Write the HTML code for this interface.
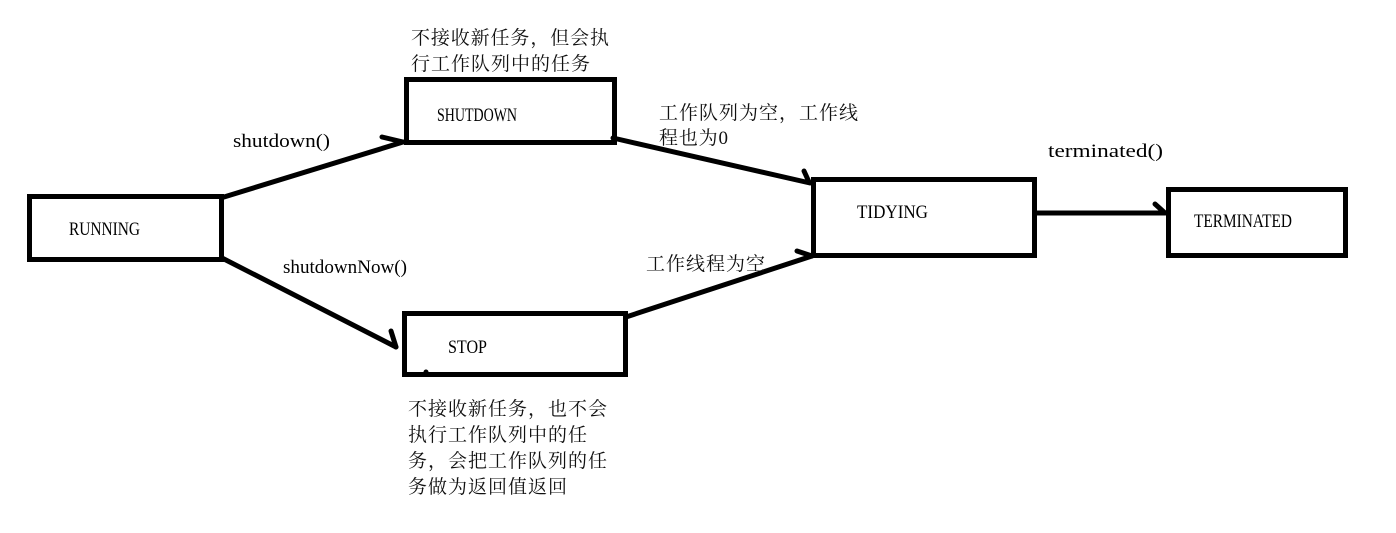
<!DOCTYPE html>
<html>
<head>
<meta charset="utf-8">
<style>
html,body{margin:0;padding:0;background:#fff;}
svg{display:block;}
.lbl{font-family:"Liberation Serif","Noto Serif CJK SC",serif;font-size:19px;fill:#000;}
.fn{font-family:"Liberation Serif","Noto Serif CJK SC",serif;font-size:19px;fill:#000;}
.cjk{font-family:"Liberation Serif","Noto Serif CJK SC","Noto Sans CJK SC",serif;font-size:19px;fill:#111;}
</style>
</head>
<body>
<svg width="1396" height="533" viewBox="0 0 1396 533" xmlns="http://www.w3.org/2000/svg">
<rect x="0" y="0" width="1396" height="533" fill="#fff"/>
<g fill="none" stroke="#000" stroke-width="5">
  <rect x="29.5" y="196.5" width="192" height="63"/>
  <rect x="406.5" y="79.5" width="208" height="63"/>
  <rect x="813.5" y="179.5" width="221" height="76"/>
  <rect x="1168.5" y="189.5" width="177" height="66"/>
  <rect x="404.5" y="313.5" width="221" height="61"/>
</g>
<g fill="none" stroke="#000" stroke-width="5" stroke-linecap="round" stroke-linejoin="round">
  <path d="M224,197 L403,142"/>
  <path d="M382,137 L403,142"/>
  <path d="M222,258 L396,347"/>
  <path d="M391,331 L396,347"/>
  <path d="M613,138 L810,183"/>
  <path d="M804,171 L809,182"/>
  <path d="M626,317 L812,256"/>
  <path d="M797,251 L812,256"/>
  <path d="M1037,213 L1165,213"/>
  <path d="M1155,204 L1165,213"/>
</g>
<circle cx="426" cy="372" r="2.5" fill="#000"/>

<text class="lbl" x="69" y="235" textLength="71" lengthAdjust="spacingAndGlyphs">RUNNING</text>
<text class="lbl" x="437" y="121" textLength="80" lengthAdjust="spacingAndGlyphs">SHUTDOWN</text>
<text class="lbl" x="857" y="218" textLength="71" lengthAdjust="spacingAndGlyphs">TIDYING</text>
<text class="lbl" x="1194" y="227" textLength="98" lengthAdjust="spacingAndGlyphs">TERMINATED</text>
<text class="lbl" x="448" y="353" textLength="39" lengthAdjust="spacingAndGlyphs">STOP</text>

<text class="fn" x="233" y="147" textLength="97" lengthAdjust="spacingAndGlyphs">shutdown()</text>
<text class="fn" x="283" y="273" textLength="124" lengthAdjust="spacingAndGlyphs">shutdownNow()</text>
<text class="fn" x="1048" y="157" textLength="115" lengthAdjust="spacingAndGlyphs">terminated()</text>

<text class="cjk" x="411" y="44" textLength="198" lengthAdjust="spacing">不接收新任务，但会执</text>
<text class="cjk" x="411" y="70" textLength="179" lengthAdjust="spacing">行工作队列中的任务</text>
<text class="cjk" x="659" y="119" textLength="199" lengthAdjust="spacing">工作队列为空，工作线</text>
<text class="cjk" x="659" y="144" textLength="69" lengthAdjust="spacing">程也为0</text>
<text class="cjk" x="646" y="270" textLength="119" lengthAdjust="spacing">工作线程为空</text>
<text class="cjk" x="408" y="415" textLength="199" lengthAdjust="spacing">不接收新任务，也不会</text>
<text class="cjk" x="408" y="441" textLength="179" lengthAdjust="spacing">执行工作队列中的任</text>
<text class="cjk" x="408" y="467" textLength="199" lengthAdjust="spacing">务，会把工作队列的任</text>
<text class="cjk" x="408" y="493" textLength="159" lengthAdjust="spacing">务做为返回值返回</text>
</svg>
</body>
</html>
